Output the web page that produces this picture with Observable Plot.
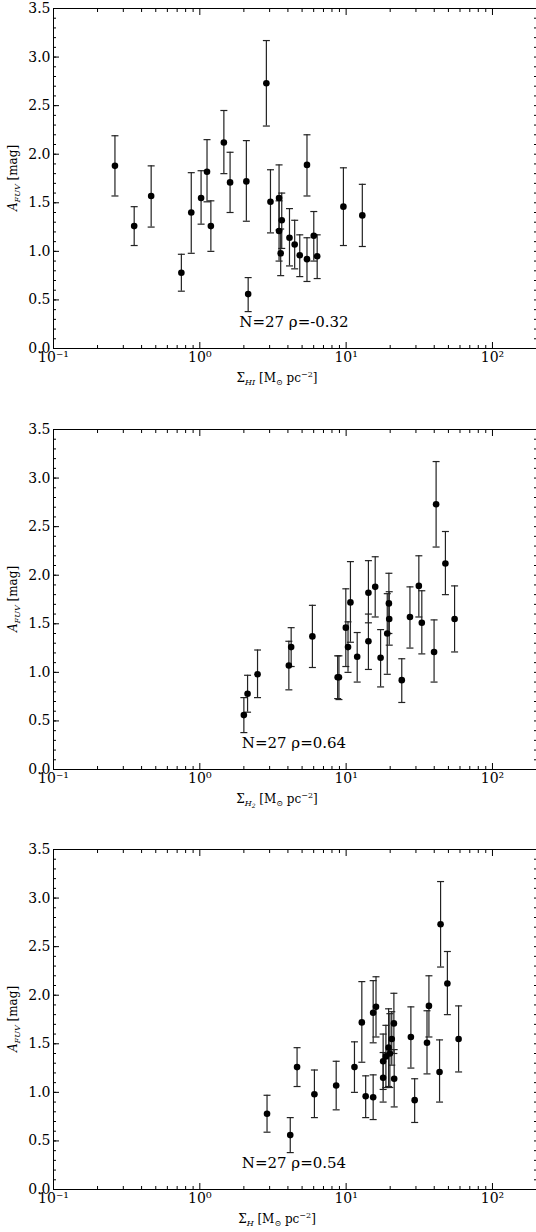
<!DOCTYPE html>
<html>
<head>
<meta charset="utf-8">
<script src="https://cdn.jsdelivr.net/npm/d3@7"></script>
<script src="https://cdn.jsdelivr.net/npm/@observablehq/plot@0.6"></script>
<style>
  body { margin: 0; background: #fff; }
  .panel { position: absolute; left: 0; width: 536px; }
</style>
</head>
<body>
<div id="p1" class="panel" style="top:0px"></div>
<div id="p2" class="panel" style="top:421px"></div>
<div id="p3" class="panel" style="top:841px"></div>
<script>
// panel 1: Sigma_HI
const hiX = [0.263,0.356,0.465,0.748,0.874,1.02,1.12,1.19,1.46,1.61,2.08,2.14,2.85,3.04,3.48,3.48,3.57,3.63,4.10,4.45,4.82,5.40,5.40,6.01,6.34,9.58,12.9]
const hiY = [1.88,1.26,1.57,0.78,1.40,1.55,1.82,1.26,2.12,1.71,1.72,0.56,2.73,1.51,1.55,1.21,0.98,1.32,1.14,1.07,0.96,1.89,0.92,1.16,0.95,1.46,1.37]
const hiLo = [1.57,1.06,1.25,0.59,0.98,1.28,1.51,1.00,1.80,1.40,1.31,0.38,2.29,1.19,1.22,0.90,0.75,1.03,0.85,0.82,0.74,1.57,0.69,0.90,0.72,1.06,1.05]
const hiHi = [2.19,1.46,1.88,0.97,1.81,1.83,2.15,1.52,2.45,2.02,2.14,0.73,3.17,1.84,1.89,1.52,1.23,1.60,1.44,1.32,1.17,2.20,1.14,1.41,1.17,1.86,1.69]

// panel 2: Sigma_H2
const h2X = [2.0,2.12,2.48,4.06,4.21,5.88,8.75,8.93,9.95,10.3,10.7,11.9,14.2,14.2,15.8,17.2,19.1,19.6,19.7,24.0,27.3,31.4,32.9,39.9,41.2,47.7,55.1]
const h2Y = [0.56,0.78,0.98,1.07,1.26,1.37,0.95,0.95,1.46,1.26,1.72,1.16,1.82,1.32,1.88,1.15,1.40,1.71,1.55,0.92,1.57,1.89,1.51,1.21,2.73,2.12,1.55]
const h2Lo = [0.38,0.59,0.74,0.82,1.06,1.05,0.73,0.72,1.06,1.00,1.31,0.90,1.51,1.03,1.57,0.85,0.98,1.40,1.28,0.69,1.25,1.57,1.19,0.90,2.29,1.80,1.21]
const h2Hi = [0.74,0.97,1.23,1.32,1.46,1.69,1.17,1.17,1.86,1.52,2.14,1.41,2.15,1.60,2.19,1.44,1.81,2.02,1.83,1.14,1.88,2.20,1.84,1.54,3.17,2.45,1.89]

// panel 3: Sigma_H
const hX = [2.88,4.15,4.62,6.07,8.55,11.4,12.8,13.6,15.3,15.3,16.0,17.9,17.9,18.7,19.5,19.9,20.5,21.2,21.3,27.7,29.4,35.7,36.8,43.5,44.2,49.2,58.7]
const hY = [0.78,0.56,1.26,0.98,1.07,1.26,1.72,0.96,1.82,0.95,1.88,1.32,1.15,1.37,1.46,1.40,1.55,1.71,1.14,1.57,0.92,1.51,1.89,1.21,2.73,2.12,1.55]
const hLo = [0.59,0.38,1.06,0.74,0.82,1.00,1.31,0.74,1.51,0.72,1.57,1.03,0.90,1.05,1.06,1.05,1.28,1.40,0.85,1.25,0.69,1.19,1.57,0.90,2.29,1.80,1.21]
const hHi = [0.97,0.74,1.46,1.23,1.32,1.52,2.14,1.17,2.15,1.18,2.19,1.60,1.41,1.69,1.86,1.81,1.83,2.02,1.44,1.88,1.14,1.84,2.20,1.54,3.17,2.45,1.89]

const notes = ["N=27 ρ=-0.32", "N=27 ρ=0.64", "N=27 ρ=0.54"]
const xSubs = ["HI", "H", "H"]
const xSubSub = ["", "2", ""]

const xMajor = [0.1, 1, 10, 100]
const yMajor = [0, 0.5, 1, 1.5, 2, 2.5, 3, 3.5]
const xMinor = []
for (const dec of [0.1, 1, 10, 100]) for (let k = 2; k <= 9; k++) if (dec * k <= 200) xMinor.push(dec * k)
const yMinor = d3.range(0, 35.01, 1).map(d => d / 10)

const sup = {"-": "⁻", "0": "⁰", "1": "¹", "2": "²"}
const fmtPow = d => "10" + String(Math.round(Math.log10(d))).split("").map(c => sup[c]).join("")
const blank = () => ""

const cap = {draw(ctx, size) { const w = 3.5; ctx.moveTo(-w, 0); ctx.lineTo(w, 0) }}
const font = "DejaVu Serif"

function panel(id, xs, ys, lo, hi, note, sub, subsub) {
  const data = xs.map((x, i) => ({x, y: ys[i], lo: lo[i], hi: hi[i]}))
  const chart = Plot.plot({
    width: 536, height: 390,
    marginLeft: 53, marginRight: 0, marginTop: 8, marginBottom: 42,
    style: {fontFamily: font, fontSize: 13, color: "#000", background: "#fff"},
    x: {type: "log", domain: [0.1, 200]},
    y: {domain: [0, 3.5]},
    marks: [
      Plot.frame({stroke: "#000"}),
      Plot.axisX({ticks: xMajor, tickSize: -6, tickFormat: fmtPow, tickPadding: 10, label: null, fontSize: 14}),
      Plot.axisX({ticks: xMinor, tickSize: -3, tickFormat: blank, label: null}),
      Plot.axisX({anchor: "top", ticks: xMajor, tickSize: -6, tickFormat: blank, label: null}),
      Plot.axisX({anchor: "top", ticks: xMinor, tickSize: -3, tickFormat: blank, label: null}),
      Plot.axisY({ticks: yMajor, tickSize: -6, tickFormat: d3.format(".1f"), tickPadding: 9, label: null, fontSize: 14}),
      Plot.axisY({ticks: yMinor, tickSize: -3, tickFormat: blank, label: null}),
      Plot.axisY({anchor: "right", ticks: yMinor, tickSize: -3, tickFormat: blank, label: null}),
      Plot.ruleX(data, {x: "x", y1: "lo", y2: "hi", stroke: "#222", strokeWidth: 1.2}),
      Plot.dot(data, {x: "x", y: "lo", symbol: cap, stroke: "#222", strokeWidth: 1.2, fill: "none"}),
      Plot.dot(data, {x: "x", y: "hi", symbol: cap, stroke: "#222", strokeWidth: 1.2, fill: "none"}),
      Plot.dot(data, {x: "x", y: "y", r: 3.3, fill: "#000"}),
      Plot.text([note], {x: 4.4, y: 0.27, text: d => d, fontSize: 15, fill: "#000"})
    ]
  })
  const svg = d3.select(chart)
  // x label
  const xl = svg.append("text").attr("x", 277).attr("y", 382).attr("text-anchor", "middle")
    .attr("font-family", font).attr("font-size", 12)
  xl.append("tspan").text("Σ")
  xl.append("tspan").attr("font-size", 8).attr("font-style", "italic").attr("dy", 3).text(sub)
  if (subsub) xl.append("tspan").attr("font-size", 6).attr("font-style", "italic").attr("dy", 2).text(subsub)
  xl.append("tspan").attr("dy", subsub ? -5 : -3).text(" [M")
  xl.append("tspan").attr("font-size", 8).attr("dy", 3).text("⊙")
  xl.append("tspan").attr("dy", -3).text(" pc")
  xl.append("tspan").attr("font-size", 8).attr("dy", -5).text("−2")
  xl.append("tspan").attr("dy", 5).text("]")
  // y label
  const yl = svg.append("text").attr("transform", "translate(17,178) rotate(-90)").attr("text-anchor", "middle")
    .attr("font-family", font).attr("font-size", 12)
  yl.append("tspan").attr("font-style", "italic").text("A")
  yl.append("tspan").attr("font-size", 8).attr("font-style", "italic").attr("dy", 3).text("FUV")
  yl.append("tspan").attr("dy", -3).text(" [mag]")
  d3.select(id).append(() => chart)
}

panel("#p1", hiX, hiY, hiLo, hiHi, notes[0], xSubs[0], xSubSub[0])
panel("#p2", h2X, h2Y, h2Lo, h2Hi, notes[1], xSubs[1], xSubSub[1])
panel("#p3", hX, hY, hLo, hHi, notes[2], xSubs[2], xSubSub[2])
</script>
</body>
</html>
